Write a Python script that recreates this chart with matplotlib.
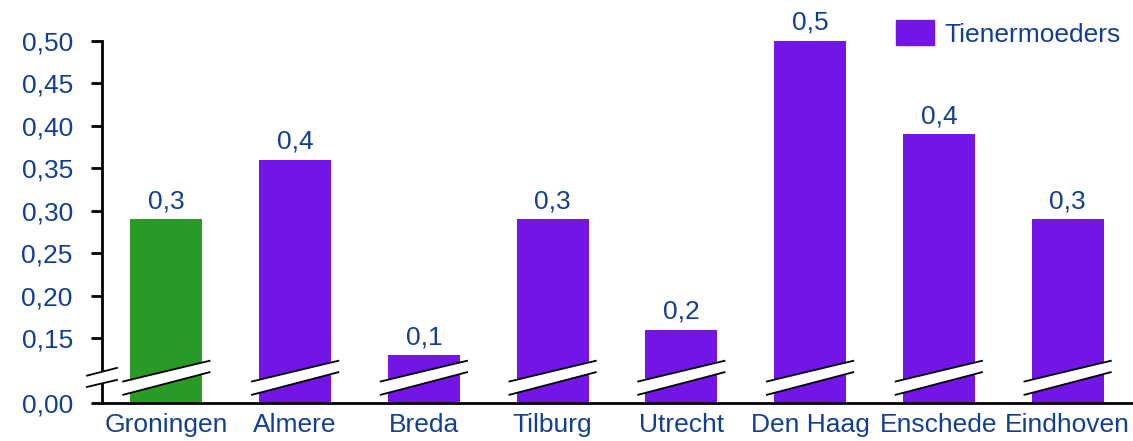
import matplotlib
matplotlib.use("Agg")
import matplotlib.pyplot as plt
import matplotlib.transforms as mtransforms
from matplotlib.patches import Patch
import numpy as np

categories = ["Groningen", "Almere", "Breda", "Tilburg", "Utrecht", "Den Haag", "Enschede", "Eindhoven"]
values = [0.29, 0.36, 0.13, 0.29, 0.16, 0.50, 0.39, 0.29]
ytick_values = [0.15, 0.20, 0.25, 0.30, 0.35, 0.40, 0.45, 0.50]
legend_label = "Tienermoeders"

PURPLE = "#7415E8"
GREEN = "#2A9926"
TEXT = "#123F93"
FS = 19

plt.rcParams['font.family'] = ['Liberation Sans', 'DejaVu Sans']

W, H = 1133, 441
fig = plt.figure(figsize=(W / 100, H / 100), dpi=100)
ax = fig.add_axes([102 / W, (H - 403) / H, (1132 - 102) / W, (403 - 41) / H])

y0 = 0.0741  # axis bottom (shown as 0,00 after the break)
x = np.arange(len(categories))
colors = [GREEN] + [PURPLE] * (len(categories) - 1)
ax.bar(x, values, width=0.56, color=colors, zorder=2)

ax.set_xlim(-0.5, len(categories) - 0.5)
ax.set_ylim(y0, 0.50)

ticks = [y0] + ytick_values
labels = ["0,00"] + [f"{v:.2f}".replace(".", ",") for v in ytick_values]
ax.set_yticks(ticks)
ax.set_yticklabels(labels)
ax.set_xticks(x)
ax.set_xticklabels(categories)

ax.tick_params(axis='y', direction='out', length=8, width=2, colors='black',
               labelcolor=TEXT, labelsize=FS, pad=13)
ax.tick_params(axis='x', length=0, labelcolor=TEXT, labelsize=FS, pad=7)

for s in ['top', 'right']:
    ax.spines[s].set_visible(False)
for s in ['left', 'bottom']:
    ax.spines[s].set_linewidth(2)
    ax.spines[s].set_color('black')

# value labels
for xi, v in zip(x, values):
    ax.annotate(f"{v:.1f}".replace(".", ","), (xi, v), xytext=(0, 8),
                textcoords='offset points', ha='center', va='baseline',
                color=TEXT, fontsize=FS, clip_on=False)

# break marks on bars
hx = 0.342
l1 = (0.0992, 0.124)
l2 = (0.0835, 0.1106)
for xi in x:
    xs = [xi - hx, xi + hx]
    ax.fill([xs[0], xs[1], xs[1], xs[0]], [l1[0], l1[1], l2[1], l2[0]],
            color='white', zorder=3, lw=0)
    ax.plot(xs, l1, color='black', lw=1.3, zorder=4, solid_capstyle='butt')
    ax.plot(xs, l2, color='black', lw=1.3, zorder=4, solid_capstyle='butt')

# break on y axis
tr = mtransforms.blended_transform_factory(ax.transAxes, ax.transData)
hxa = 15 / (1132 - 102)
a1 = (0.1063, 0.1154)
a2 = (0.0930, 0.1013)
ax.fill([-hxa, hxa, hxa, -hxa], [a1[0], a1[1], a2[1], a2[0]], color='white',
        transform=tr, clip_on=False, zorder=5, lw=0)
ax.plot([-hxa, hxa], a1, color='black', lw=1.3, transform=tr, clip_on=False, zorder=6)
ax.plot([-hxa, hxa], a2, color='black', lw=1.3, transform=tr, clip_on=False, zorder=6)

# legend
leg = fig.legend(handles=[Patch(color=PURPLE, label=legend_label)], loc='upper right',
                 frameon=False, fontsize=FS, handlelength=1.44, handleheight=1.1,
                 handletextpad=0.42, bbox_to_anchor=(1121 / W, 1 - 20 / H),
                 borderaxespad=0, borderpad=0)
for t in leg.get_texts():
    t.set_color(TEXT)

fig.savefig("out.png", dpi=100)
